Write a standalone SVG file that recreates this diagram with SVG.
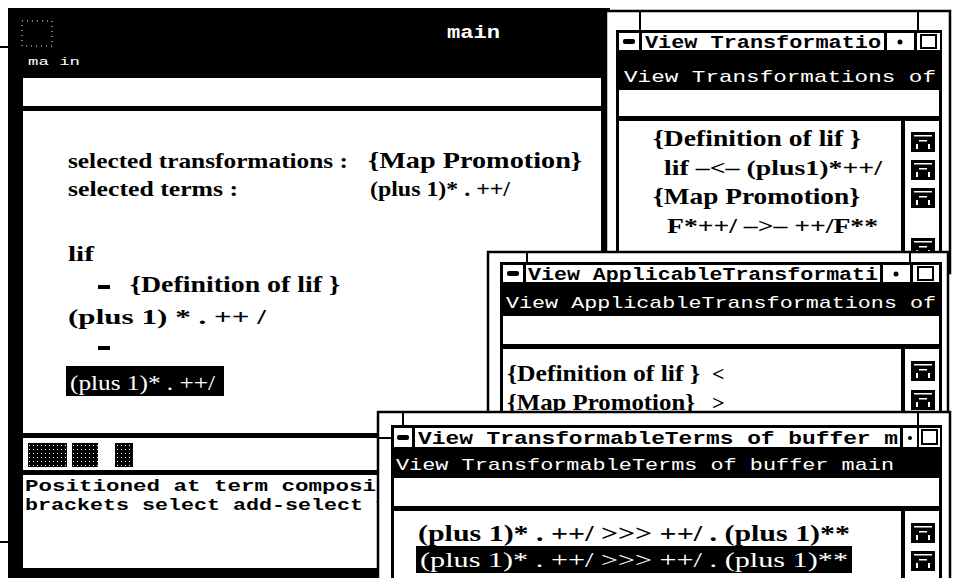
<svg xmlns="http://www.w3.org/2000/svg" width="956" height="578" viewBox="0 0 956 578">
<defs>
<style>
.ser{font-family:"Liberation Serif","Times New Roman",serif;font-weight:bold;fill:#000}
.serw{font-family:"Liberation Serif","Times New Roman",serif;font-weight:normal;fill:#fff}
.mono{font-family:"Liberation Mono","Courier New",monospace;font-weight:bold;fill:#000}
.monow{font-family:"Liberation Mono","Courier New",monospace;font-weight:normal;fill:#fff}
.frame{fill:#fff;stroke:#000;stroke-width:2.5}
.box{fill:#fff;stroke:none}
.tick{stroke:#000;stroke-width:2}
</style>
<pattern id="dots" width="4" height="4" patternUnits="userSpaceOnUse">
<rect width="4" height="4" fill="#000"/><rect x="1" y="1" width="1" height="1" fill="#fff"/>
</pattern>
<symbol id="sicon" viewBox="0 0 24 20" width="24" height="20">
<rect width="24" height="20" fill="#000"/>
<rect x="3" y="3" width="18" height="1.5" fill="#fff"/>
<rect x="8" y="8" width="8" height="1.5" fill="#fff"/>
<rect x="5" y="12" width="2" height="5" fill="#fff"/>
<rect x="17" y="12" width="2" height="5" fill="#fff"/>
</symbol>
</defs>
<rect width="956" height="578" fill="#fff"/>

<g id="main-window">
<rect x="8" y="8" width="602" height="570" fill="#000"/>
<line x1="0" y1="47" x2="8" y2="47" class="tick"/>
<line x1="0" y1="542" x2="8" y2="542" class="tick"/>
<rect x="22" y="21" width="30" height="25" fill="none" stroke="#fff" stroke-width="1" stroke-dasharray="1 4"/>
<text x="447" y="38" class="mono" style="fill:#fff" font-size="19" textLength="53" lengthAdjust="spacingAndGlyphs">main</text>
<text x="28" y="65" class="monow" font-size="11" textLength="52" lengthAdjust="spacingAndGlyphs">ma in</text>
<rect x="23" y="78" width="578" height="28" class="box"/>
<rect x="23" y="111" width="578" height="322" class="box"/>
<rect x="23" y="438" width="578" height="32" class="box"/>
<rect x="28" y="443" width="39" height="24" fill="url(#dots)"/>
<rect x="72" y="443" width="26" height="24" fill="url(#dots)"/>
<rect x="115" y="443" width="18" height="24" fill="url(#dots)"/>
<rect x="23" y="475" width="578" height="93" class="box"/>
<text x="25" y="491" class="mono" font-size="17" textLength="351" lengthAdjust="spacingAndGlyphs">Positioned at term  composi</text>
<text x="25" y="510" class="mono" font-size="17" textLength="364" lengthAdjust="spacingAndGlyphs">brackets select add-select v</text>
<text x="68" y="168" class="ser" font-size="21" textLength="280" lengthAdjust="spacingAndGlyphs">selected transformations :</text>
<text x="368" y="168" class="ser" font-size="24" textLength="214" lengthAdjust="spacingAndGlyphs">{Map Promotion}</text>
<text x="68" y="196" class="ser" font-size="21" textLength="170" lengthAdjust="spacingAndGlyphs">selected terms :</text>
<text x="370" y="196" class="ser" font-size="22" textLength="140" lengthAdjust="spacingAndGlyphs">(plus 1)* . ++/</text>
<text x="68" y="261" class="ser" font-size="22" textLength="26" lengthAdjust="spacingAndGlyphs">lif</text>
<rect x="98" y="285" width="12" height="4" fill="#000"/>
<text x="130" y="292" class="ser" font-size="24" textLength="210" lengthAdjust="spacingAndGlyphs">{Definition of lif }</text>
<text x="68" y="324" class="ser" font-size="22" textLength="198" lengthAdjust="spacingAndGlyphs">(plus  1) * . ++ /</text>
<rect x="98" y="346" width="12" height="4" fill="#000"/>
<rect x="66" y="366" width="158" height="30" fill="#000"/>
<text x="70" y="390" class="serw" font-size="21" textLength="145" lengthAdjust="spacingAndGlyphs">(plus 1)* . ++/</text>
</g>

<g id="view-transformations">
<rect x="606" y="11" width="344" height="262" class="frame"/>
<line x1="640" y1="11" x2="640" y2="30" class="tick"/>
<line x1="918" y1="11" x2="918" y2="30" class="tick"/>
<rect x="616" y="30" width="326" height="243" fill="#000"/>
<rect x="619" y="33" width="20" height="17" class="box"/>
<rect x="623" y="39" width="12" height="5" rx="2" fill="#000"/>
<rect x="642" y="33" width="242" height="17" class="box"/>
<text x="645" y="48" class="mono" font-size="18" textLength="236" lengthAdjust="spacingAndGlyphs">View Transformatio</text>
<rect x="887" y="33" width="27" height="17" class="box"/>
<circle cx="900" cy="42" r="2.5" fill="#000"/>
<rect x="917" y="33" width="23" height="17" class="box"/>
<rect x="921" y="35" width="15" height="13" fill="none" stroke="#000" stroke-width="2"/>
<text x="624" y="82" class="monow" font-size="17" textLength="312" lengthAdjust="spacingAndGlyphs">View Transformations of</text>
<rect x="619" y="90" width="320" height="26" class="box"/>
<rect x="619" y="121" width="282" height="152" class="box"/>
<rect x="905" y="121" width="34" height="152" class="box"/>
<text x="653" y="146" class="ser" font-size="24" textLength="208" lengthAdjust="spacingAndGlyphs">{Definition of lif }</text>
<text x="664" y="175" class="ser" font-size="22" textLength="218" lengthAdjust="spacingAndGlyphs">lif –&lt;– (plus1)*++/</text>
<text x="653" y="204" class="ser" font-size="24" textLength="207" lengthAdjust="spacingAndGlyphs">{Map Promotion}</text>
<text x="667" y="233" class="ser" font-size="22" textLength="211" lengthAdjust="spacingAndGlyphs">F*++/ –&gt;– ++/F**</text>
<use href="#sicon" x="911" y="132"/>
<use href="#sicon" x="911" y="160"/>
<use href="#sicon" x="911" y="188"/>
<use href="#sicon" x="911" y="238"/>
</g>

<g id="view-applicable-transformations">
<rect x="488" y="252" width="460" height="180" class="frame"/>
<line x1="527" y1="252" x2="527" y2="262" class="tick"/>
<line x1="910" y1="252" x2="910" y2="262" class="tick"/>
<rect x="500" y="262" width="442" height="170" fill="#000"/>
<rect x="503" y="265" width="20" height="17" class="box"/>
<rect x="507" y="271" width="12" height="5" rx="2" fill="#000"/>
<rect x="526" y="265" width="354" height="17" class="box"/>
<text x="528" y="280" class="mono" font-size="18" textLength="350" lengthAdjust="spacingAndGlyphs">View ApplicableTransformati</text>
<rect x="883" y="265" width="27" height="17" class="box"/>
<circle cx="896" cy="274" r="2.5" fill="#000"/>
<rect x="913" y="265" width="26" height="17" class="box"/>
<rect x="918" y="267" width="15" height="13" fill="none" stroke="#000" stroke-width="2"/>
<text x="506" y="308" class="monow" font-size="17" textLength="430" lengthAdjust="spacingAndGlyphs">View ApplicableTransformations of</text>
<rect x="503" y="316" width="436" height="28" class="box"/>
<rect x="503" y="349" width="398" height="83" class="box"/>
<rect x="905" y="349" width="34" height="83" class="box"/>
<text x="507" y="381" class="ser" font-size="24" textLength="193" lengthAdjust="spacingAndGlyphs">{Definition of lif }</text>
<text x="712" y="381" class="ser" font-size="22">&lt;</text>
<text x="507" y="410" class="ser" font-size="24" textLength="188" lengthAdjust="spacingAndGlyphs">{Map Promotion}</text>
<text x="712" y="410" class="ser" font-size="22">&gt;</text>
<use href="#sicon" x="911" y="361"/>
<use href="#sicon" x="911" y="390"/>
</g>

<g id="view-transformable-terms">
<rect x="378" y="412" width="572" height="180" class="frame"/>
<line x1="403" y1="412" x2="403" y2="425" class="tick"/>
<line x1="918" y1="412" x2="918" y2="425" class="tick"/>
<line x1="378" y1="438" x2="391" y2="438" class="tick"/>
<rect x="391" y="425" width="551" height="170" fill="#000"/>
<rect x="394" y="428" width="18" height="19" class="box"/>
<rect x="397" y="435" width="12" height="5" rx="2" fill="#000"/>
<rect x="415" y="428" width="485" height="19" class="box"/>
<text x="418" y="444" class="mono" font-size="19" textLength="480" lengthAdjust="spacingAndGlyphs">View TransformableTerms of buffer m</text>
<rect x="903" y="428" width="14" height="19" class="box"/>
<circle cx="910" cy="438" r="2" fill="#000"/>
<rect x="919" y="428" width="21" height="19" class="box"/>
<rect x="922" y="430" width="15" height="14" fill="none" stroke="#000" stroke-width="2"/>
<text x="396" y="470" class="monow" font-size="17" textLength="498" lengthAdjust="spacingAndGlyphs">View TransformableTerms of buffer main</text>
<rect x="394" y="478" width="545" height="28" class="box"/>
<rect x="394" y="511" width="507" height="80" class="box"/>
<rect x="905" y="511" width="34" height="80" class="box"/>
<text x="418" y="541" class="ser" font-size="23" textLength="432" lengthAdjust="spacingAndGlyphs">(plus 1)* . ++/ &gt;&gt;&gt; ++/ . (plus 1)**</text>
<rect x="416" y="546" width="436" height="27" fill="#000"/>
<text x="420" y="567" class="serw" font-size="22" textLength="428" lengthAdjust="spacingAndGlyphs">(plus 1)* . ++/ &gt;&gt;&gt; ++/ . (plus 1)**</text>
<use href="#sicon" x="911" y="523"/>
<use href="#sicon" x="911" y="551"/>
</g>
</svg>
